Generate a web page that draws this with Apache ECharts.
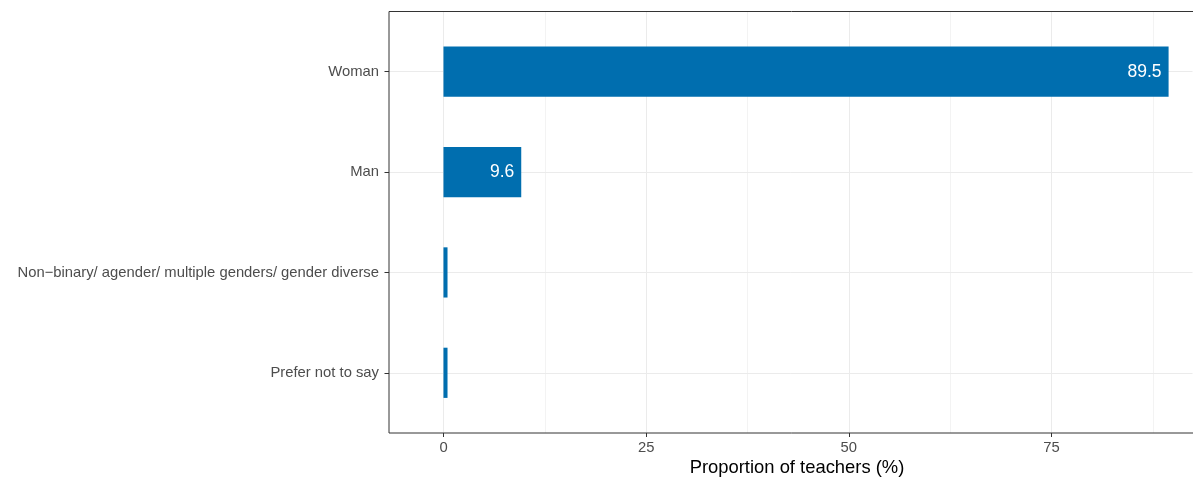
<!DOCTYPE html>
<html>
<head>
<meta charset="utf-8">
<script src="https://cdn.jsdelivr.net/npm/echarts@6/dist/echarts.min.js"></script>
<style>
html,body{margin:0;padding:0;background:#fff;}
#c{width:1193px;height:477px;}
</style>
</head>
<body>
<div id="c"></div>
<script>
const categories = ['Woman', 'Man', 'Non\u2212binary/ agender/ multiple genders/ gender diverse', 'Prefer not to say'];
const values = [89.5, 9.6, 0.5, 0.5];
const xTicks = [0, 25, 50, 75];
const xTitle = 'Proportion of teachers (%)';

const FONT = '"Liberation Sans", Arial, Helvetica, sans-serif';
const BAR = '#006EAF';
const GRID = '#EBEBEB';

// panel geometry (pixels): x=0 at 443.5, 8.107 px per unit
const X0 = 443.5, PXU = 8.107, PL = 389, PR = 1193;
const xmin = -(X0 - PL) / PXU, xmax = (PR - X0) / PXU;
const px = v => X0 + v * PXU;

const chart = echarts.init(document.getElementById('c'), null, {renderer: 'canvas'});
chart.setOption({
  animation: false,
  backgroundColor: '#ffffff',
  textStyle: {fontFamily: FONT},
  grid: [
    {left: PL, width: 808, top: 11.5, bottom: 44, show: true, borderColor: '#333333', borderWidth: 1, backgroundColor: 'transparent', z: 5, outerBoundsMode: 'none', containLabel: false},
    {left: px(0), right: PR - px(75), top: 11.5, bottom: 44, outerBoundsMode: 'none', containLabel: false},
    {left: PL, right: 0.5, top: 71.7, bottom: 104.2, outerBoundsMode: 'none', containLabel: false},
    {left: px(12.5), right: PR - px(87.5), top: 11.5, bottom: 44, outerBoundsMode: 'none', containLabel: false}
  ],
  xAxis: [
    {gridIndex: 0, type: 'value', min: 0, max: 1,
      axisLine: {show: false}, axisTick: {show: false}, axisLabel: {show: false}, splitLine: {show: false},
      name: xTitle, nameLocation: 'middle', nameGap: 26,
      nameTextStyle: {color: '#000000', fontSize: 18.4, fontFamily: FONT, verticalAlign: 'top', padding: [0, 0, 0, 8]}
    },
    {gridIndex: 1, type: 'value', min: xTicks[0], max: xTicks[xTicks.length - 1], interval: 25,
      axisLine: {show: false},
      axisTick: {show: true, length: 4, lineStyle: {color: '#333333', width: 1}},
      axisLabel: {show: true, color: '#4D4D4D', fontSize: 14.8, fontFamily: FONT, margin: 7},
      splitLine: {show: true, lineStyle: {color: GRID, width: 1}}
    },
    {gridIndex: 2, type: 'value', show: false, min: xmin, max: xmax},
    {gridIndex: 3, type: 'value', min: 0, max: 3, interval: 1,
      axisLine: {show: false}, axisTick: {show: false}, axisLabel: {show: false},
      splitLine: {show: true, lineStyle: {color: GRID, width: 0.6}}
    }
  ],
  yAxis: [
    {gridIndex: 0, type: 'value', show: false},
    {gridIndex: 1, type: 'value', show: false},
    {gridIndex: 2, type: 'category', data: categories, inverse: true, boundaryGap: false,
      axisLine: {show: false, onZero: false},
      axisTick: {show: true, length: 4.5, lineStyle: {color: '#333333', width: 1}},
      axisLabel: {show: true, interval: 0, color: '#4D4D4D', fontSize: 14.8, fontFamily: FONT, margin: 10},
      splitLine: {show: true, interval: 0, lineStyle: {color: GRID, width: 1}}
    },
    {gridIndex: 3, type: 'value', show: false}
  ],
  series: [{
    type: 'bar',
    xAxisIndex: 2,
    yAxisIndex: 2,
    data: values,
    barWidth: 50.2,
    clip: false,
    z: 3,
    itemStyle: {color: BAR},
    label: {
      show: true,
      position: 'insideRight',
      distance: 7,
      color: '#ffffff',
      fontSize: 17.5,
      fontFamily: FONT,
      formatter: function (p) { return p.value >= 5 ? p.value.toFixed(1) : ''; }
    }
  }]
});
</script>
</body>
</html>
